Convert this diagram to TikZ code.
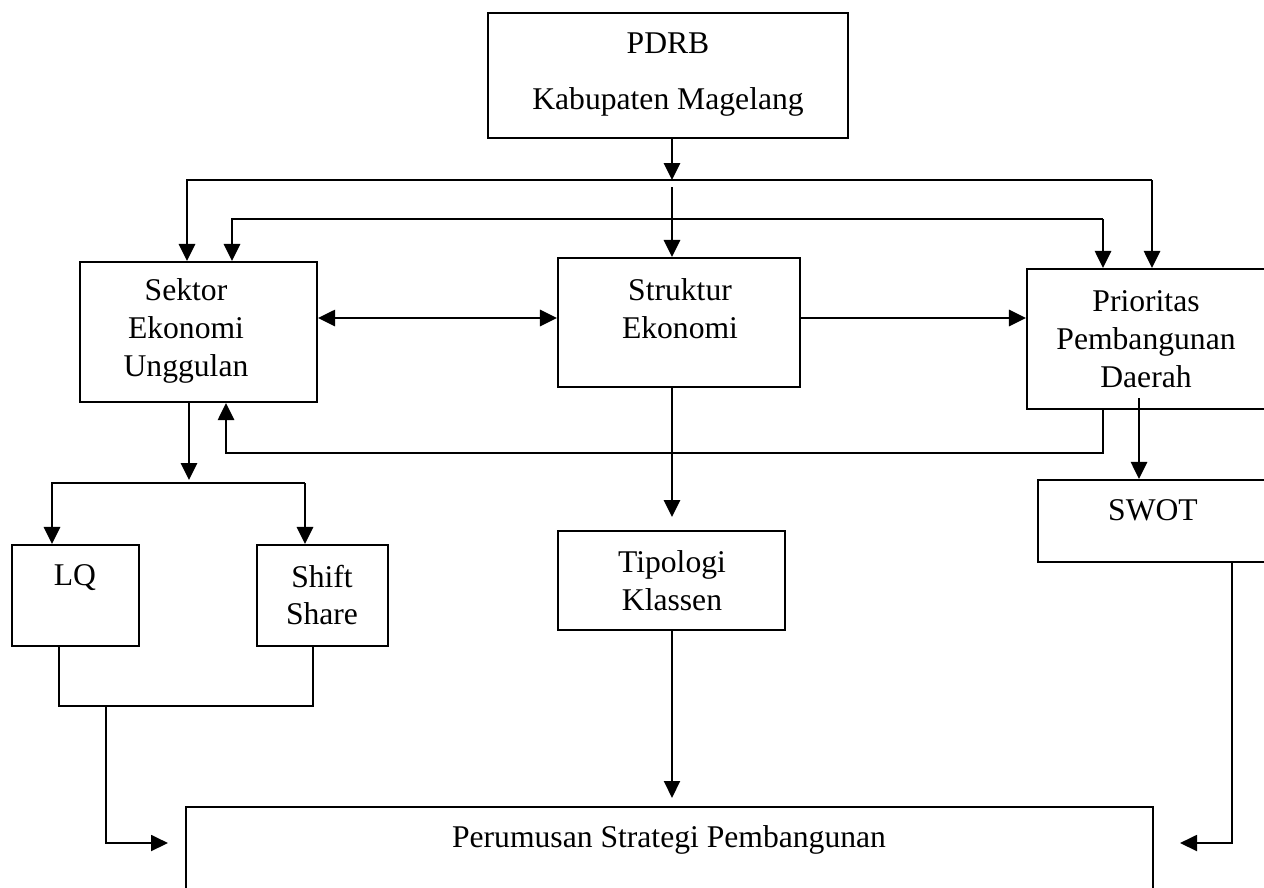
\documentclass[tikz,border=0pt]{standalone}
\usepackage{fontspec}
\setmainfont{Liberation Serif}
\usetikzlibrary{arrows.meta}
\tikzset{
  >={Triangle[length=3.4mm,width=3.2mm]},
  bx/.style={draw,line width=1.2pt,inner sep=0pt},
  tx/.style={align=center,inner sep=0pt,font=\fontsize{18}{21.5}\selectfont},
  ar/.style={->,line width=1.6pt},
  tn/.style={line width=1.1pt},
  tar/.style={->,line width=1.1pt},
}
\begin{document}
\begin{tikzpicture}[x=0.02cm,y=-0.02cm]
\useasboundingbox (0,0) rectangle (1264,887);
\clip (0,0) rectangle (1264,887);
% kotak
\node[bx,minimum width=7.2cm,minimum height=2.5cm] (pdrb) at (668,75.5){};
\node[bx,minimum width=4.74cm,minimum height=2.8cm] (sektor) at (198.5,332){};
\node[bx,minimum width=4.84cm,minimum height=2.58cm] (struktur) at (679,322.5){};
\node[bx,minimum width=4.84cm,minimum height=2.8cm] (prioritas) at (1148,339){};
\node[bx,minimum width=2.54cm,minimum height=2.02cm] (lq) at (75.5,595.5){};
\node[bx,minimum width=2.62cm,minimum height=2.02cm] (ss) at (322.5,595.5){};
\node[bx,minimum width=4.54cm,minimum height=1.98cm] (tipologi) at (671.5,580.5){};
\node[bx,minimum width=4.64cm,minimum height=1.64cm] (swot) at (1154,521){};
\node[bx,minimum width=19.34cm,minimum height=1.92cm] (strategi) at (669.5,855){};
% teks
\node[tx] (tpdrb) at (668,43){PDRB};
\node[tx] (tkab) at (668,102){Kabupaten Magelang};
\node[tx] (tsektor) at (186,331){Sektor\\Ekonomi\\Unggulan};
\node[tx] (tstruktur) at (680,309){Struktur\\Ekonomi};
\node[tx] (tprioritas) at (1146,339){Prioritas\\Pembangunan\\Daerah};
\node[tx] (tlq) at (75,578){LQ};
\node[tx] (tss) at (322,595){Shift\\Share};
\node[tx] (ttipologi) at (672,581){Tipologi\\Klassen};
\node[tx] (tswot) at (1153,510){SWOT};
\node[tx] (tstrategi) at (669,840){Perumusan Strategi Pembangunan};
% titik bantu
\coordinate (a0) at (672,180); \coordinate (a1) at (187,180); \coordinate (a2) at (1152,180);
\coordinate (b1) at (232,219); \coordinate (b2) at (1103,219); \coordinate (c0) at (672,187);
\coordinate (f1) at (1103,453); \coordinate (f2) at (226,453); \coordinate (s0) at (1139,398);
\coordinate (d0) at (189,480); \coordinate (d1) at (52,483); \coordinate (d2) at (305,483);
\coordinate (e0) at (672,517); \coordinate (e1) at (672,798);
\coordinate (m1) at (59,706); \coordinate (m2) at (313,706); \coordinate (m3) at (106,706);
\coordinate (m4) at (106,843); \coordinate (m5) at (168,843);
\coordinate (r1) at (1232,843); \coordinate (r2) at (1180,843);
% panah
\draw[ar] (pdrb.south -| a0) -- (a0);
\draw[ar] (a2) -- (a1) -- (a1 |- sektor.north); \draw[ar] (a2) -- (a2 |- prioritas.north);
\draw[ar] (b2) -- (b1) -- (b1 |- sektor.north); \draw[ar] (b2) -- (b2 |- prioritas.north);
\draw[ar] (c0) -- (c0 |- struktur.north);
\draw[ar,<->] (sektor.east |- 0,318) -- (struktur.west |- 0,318);
\draw[ar] (struktur.east |- 0,318) -- (prioritas.west |- 0,318);
\draw[ar] (prioritas.south -| f1) -- (f1) -- (f2) -- (f2 |- sektor.south);
\draw[ar] (s0) -- (s0 |- swot.north);
\draw[ar] (sektor.south -| d0) -- (d0);
\draw[ar] (d2) -- (d1) -- (d1 |- lq.north); \draw[ar] (d2) -- (d2 |- ss.north);
\draw[ar] (struktur.south -| e0) -- (e0);
\draw[tar] (tipologi.south -| e1) -- (e1);
\draw[tn] (lq.south -| m1) -- (m1) -- (m2) -- (ss.south -| m2);
\draw[tar] (m3) -- (m4) -- (m5);
\draw[tar] (swot.south -| r1) -- (r1) -- (r2);
\end{tikzpicture}
\end{document}
